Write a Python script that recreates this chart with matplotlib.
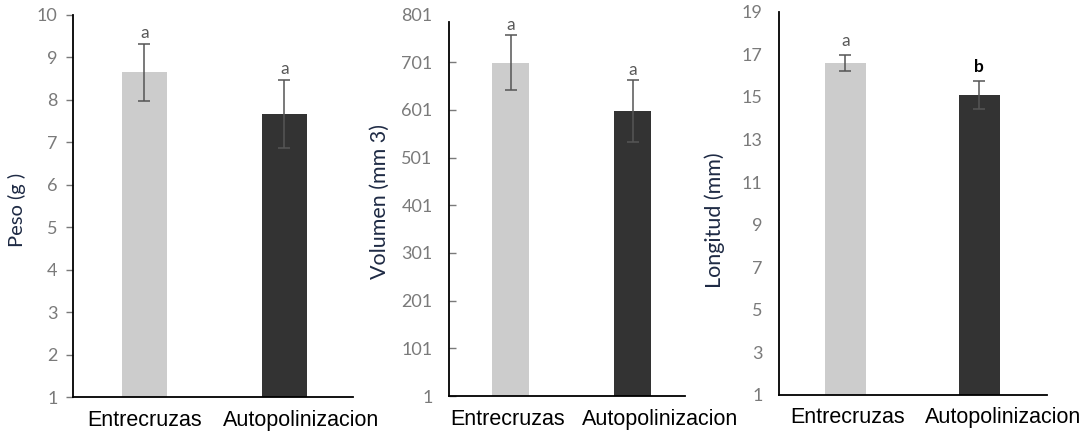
import matplotlib
matplotlib.use('Agg')
import matplotlib.pyplot as plt
import matplotlib.transforms as mtransforms

# datos
categorias = ['Entrecruzas', 'Autopolinizacion']

peso = [8.64, 7.67]
peso_err = [0.67, 0.80]
peso_letras = ['a', 'a']

volumen = [700, 599]
volumen_err = [58, 65]
volumen_letras = ['a', 'a']

longitud = [16.6, 15.1]
longitud_err = [0.38, 0.66]
longitud_letras = ['a', 'b']

colores = ['#cccccc', '#333333']
gris_ticks = '#7a7a7a'

fig = plt.figure(figsize=(10.89, 4.32), dpi=100)

ax1 = fig.add_axes([0.0670, 0.0810, 0.2571, 0.8850])
ax2 = fig.add_axes([0.4126, 0.0833, 0.2164, 0.8829])
ax3 = fig.add_axes([0.7156, 0.0861, 0.2455, 0.8866])


def panel(ax, valores, errores, letras, ylim, yticks, ylabel, xlim, ancho,
          tick_dir, tick_len, tick_pad, ylabel_size, desplaz, letra_off,
          letra_bold=False):
    x = range(len(categorias))
    ax.bar(x, [v - ylim[0] for v in valores], width=ancho, bottom=ylim[0],
           color=colores, zorder=2)
    ax.errorbar(x, valores, yerr=errores, fmt='none', ecolor='#555555',
                elinewidth=1.1, capsize=4, capthick=1.1, zorder=3)
    for i, (v, e, l) in enumerate(zip(valores, errores, letras)):
        if letra_bold and l == 'b':
            ax.annotate(l, (i, v + e), xytext=(0, letra_off), textcoords='offset points',
                        ha='center', va='bottom', fontsize=12.5, fontweight='bold',
                        color='black', family='Lato')
        else:
            ax.annotate(l, (i, v + e), xytext=(0, letra_off), textcoords='offset points',
                        ha='center', va='bottom', fontsize=12.5, color='#595959',
                        family='Lato')
    ax.set_xlim(*xlim)
    ax.set_ylim(*ylim)
    ax.set_yticks(yticks)
    ax.set_xticks(list(x))
    ax.set_xticklabels(categorias, fontsize=15.5, family='Liberation Sans')
    ax.tick_params(axis='x', length=0, pad=9)
    ax.tick_params(axis='y', direction=tick_dir, length=tick_len, width=1,
                   colors=gris_ticks, labelsize=13, pad=tick_pad)
    for t in ax.get_yticklabels():
        t.set_family('Lato')
    # las etiquetas del eje x no estan centradas bajo las barras
    for t, dx in zip(ax.get_xticklabels(), desplaz):
        t.set_transform(t.get_transform() +
                        mtransforms.ScaledTranslation(dx / 100, 0, fig.dpi_scale_trans))
    ax.set_ylabel(ylabel, fontsize=ylabel_size, family='Lato', color='#1e2a44')
    ax.spines['top'].set_visible(False)
    ax.spines['right'].set_visible(False)
    ax.spines['left'].set_linewidth(1.3)
    ax.spines['bottom'].set_linewidth(1.3)


panel(ax1, peso, peso_err, peso_letras, (1, 10), range(1, 11), 'Peso (g )',
      (-0.51, 1.49), 0.32, 'out', 5, 6, 14.5, [0, 17], 2)
panel(ax2, volumen, volumen_err, volumen_letras, (1, 801), range(1, 802, 100),
      'Volumen (mm 3)', (-0.503, 1.43), 0.30, 'in', 5, 12, 15.5, [-3, 28], 1.5)
ax2.spines['left'].set_bounds(1, 786)
ax2.yaxis.get_major_ticks()[-1].tick1line.set_visible(False)
panel(ax3, longitud, longitud_err, longitud_letras, (1, 19), range(1, 20, 2),
      'Longitud (mm)', (-0.495, 1.504), 0.31, 'out', 0, 12, 15.5, [2, 24], 4,
      letra_bold=True)

ax1.yaxis.set_label_coords(-0.168, 0.489)
ax2.yaxis.set_label_coords(-0.252, 0.511)
ax3.yaxis.set_label_coords(-0.203, 0.456)

fig.savefig('out.png', dpi=100)
